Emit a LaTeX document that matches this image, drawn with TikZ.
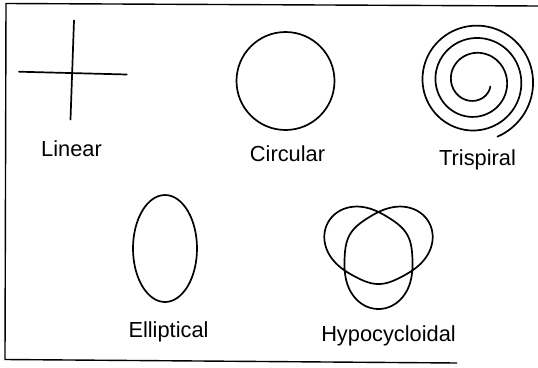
\documentclass[tikz,border=0pt]{standalone}
\usepackage{fontspec}
\setmainfont{Liberation Sans}
\begin{document}
\begin{tikzpicture}[x=1pt,y=-1pt,
  curve/.style={line width=1.7pt, line join=round, line cap=round},
  lbl/.style={inner sep=0pt, anchor=base, font=\fontsize{21.8}{26}\selectfont}]
\useasboundingbox (0,0) rectangle (538,367);
% frame
\coordinate (f1) at (538,6);
\coordinate (f2) at (6,3.5);
\coordinate (f3) at (5,359.5);
\coordinate (f4) at (457,363);
\draw[line width=1.4pt] (f1) -- (f2) -- (f3) -- (f4);
% Linear
\coordinate (vt) at (74,20.5);
\coordinate (vb) at (70.5,119.5);
\coordinate (hl) at (19,71.7);
\coordinate (hr) at (126.7,74.5);
\draw[curve] (vt) -- (vb);
\draw[curve] (hl) -- (hr);
\node[lbl] (linear) at (71.5,156) {Linear};
% Circular
\draw[curve] (285.5,81) circle[radius=49pt];
\node[lbl] (circular) at (287.5,161.5) {Circular};
% Trispiral
\draw[curve] plot[smooth, domain=-20:-1148, samples=260, variable=\a]
  ({475 + (15.3 - 0.05*\a - 1.25*(\a/360)*(\a/360))*cos(\a)},
   {81 - (15.3 - 0.05*\a - 1.25*(\a/360)*(\a/360))*sin(\a)});
\node[lbl] (trispiral) at (477.5,165) {Trispiral};
% Elliptical
\draw[curve] (165,248.5) ellipse[x radius=32pt, y radius=53.5pt];
\node[lbl] (elliptical) at (168.5,337) {Elliptical};
% Hypocycloidal
\draw[curve] plot[smooth cycle, domain=0:718, samples=360, variable=\t]
  ({378.5 + (42.25 + 12.5*cos(1.5*(\t-150)) + 3.25*cos(3*(\t-150)))*cos(\t)},
   {251 - (42.25 + 12.5*cos(1.5*(\t-150)) + 3.25*cos(3*(\t-150)))*sin(\t)});
\node[lbl] (hypo) at (388.5,341) {Hypocycloidal};
\end{tikzpicture}
\end{document}
